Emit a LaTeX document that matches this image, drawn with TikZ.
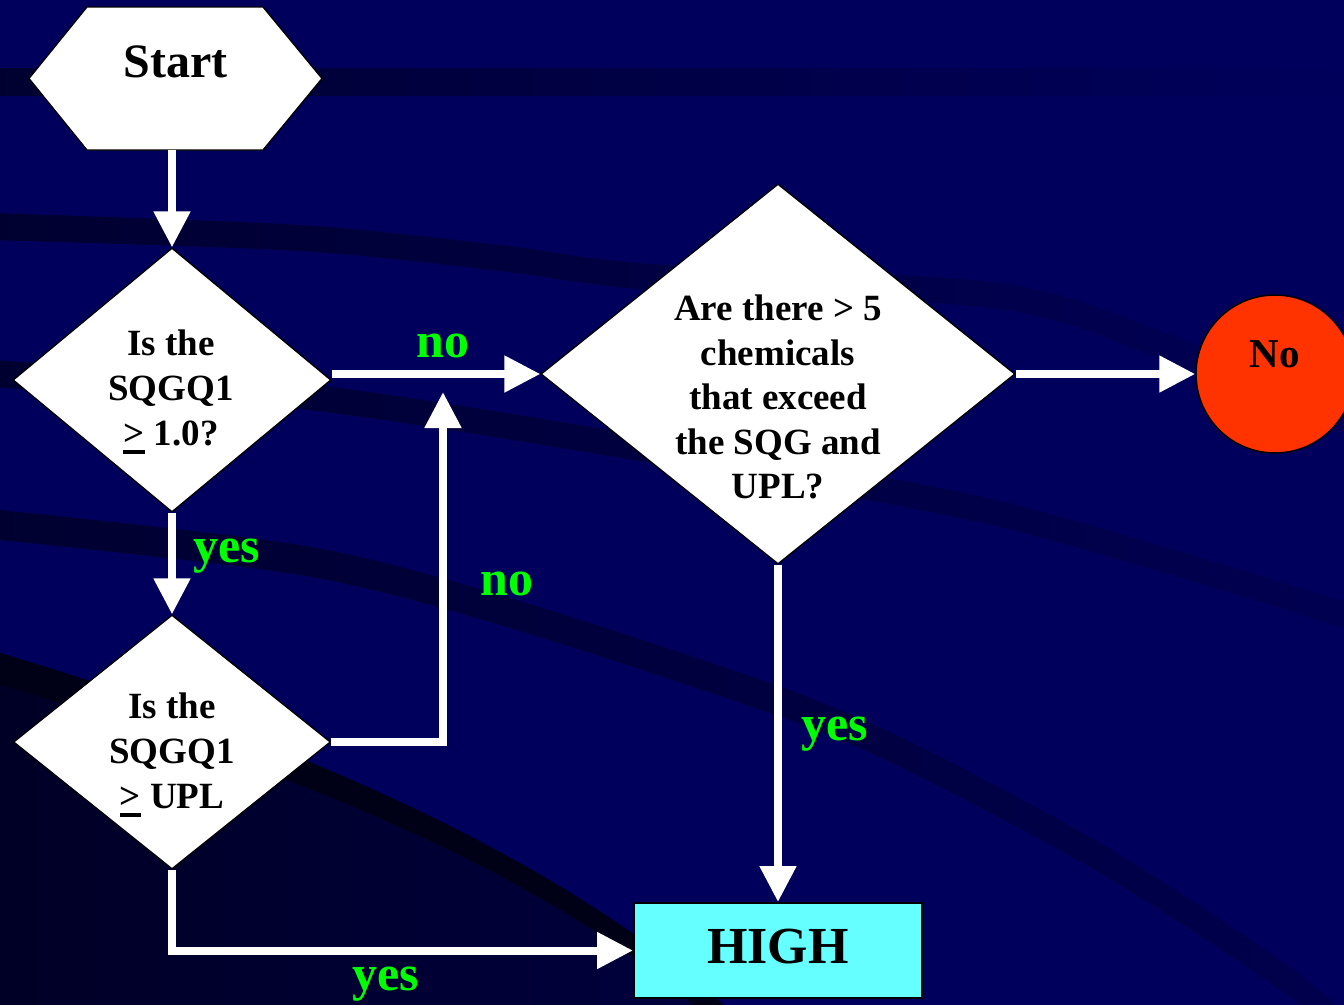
\documentclass[tikz,border=0pt]{standalone}
\usepackage{fontspec}
\setmainfont{Liberation Serif}
\usetikzlibrary{arrows.meta,shapes.geometric}

\definecolor{bgnavy}{RGB}{0,0,92}
\definecolor{swoosh}{RGB}{0,0,48}
\definecolor{deepnavy}{RGB}{0,0,62}
\definecolor{inknavy}{RGB}{0,0,38}
\definecolor{nightnavy}{RGB}{0,0,22}
\definecolor{lblgreen}{RGB}{0,255,0}
\definecolor{highcyan}{RGB}{102,255,255}
\definecolor{stopred}{RGB}{255,51,0}

% ">" with a heavy rule beneath it, read as "greater or equal"
\newcommand\ulgt{\setbox0\hbox{>}\rlap{\rule[-8pt]{\wd0}{4pt}}\box0}

\begin{document}
\begin{tikzpicture}[x=1pt,y=-1pt,
  shapebox/.style={draw=black,line width=1.3pt,fill=white},
  decision/.style={shapebox,diamond,inner sep=0pt},
  qtext/.style={font=\fontsize{37}{45}\selectfont\bfseries,align=center,inner sep=0pt},
  lbl/.style={font=\fontsize{50}{60}\selectfont\bfseries,text=lblgreen,anchor=base,inner sep=0pt},
  flow/.style={draw=white,line width=8pt,-{Triangle[width=35pt,length=36pt]}},
]
\useasboundingbox (0,0) rectangle (1344,1004);

% backdrop with dark swooshes (drawn a little past the page edge)
\fill[bgnavy] (-10,-10) rectangle (1354,1020);
\shade[left color=swoosh,middle color=swoosh!60!bgnavy,right color=bgnavy]
  (-10,68) rectangle (1354,95);
\shade[left color=swoosh,right color=swoosh!15!bgnavy]
  plot[smooth] coordinates {(-10,213) (300,225) (500,245) (650,264) (1000,283) (1173,336) (1354,410)}
  -- plot[smooth] coordinates {(1354,438) (1173,364) (1000,309) (650,290) (500,271) (300,251) (-10,240)}
  -- cycle;
\shade[left color=swoosh,right color=swoosh!25!bgnavy]
  plot[smooth] coordinates {(-10,360) (300,383) (633,434) (1000,501) (1354,605)}
  -- plot[smooth] coordinates {(1354,631) (1000,527) (633,460) (300,409) (-10,387)}
  -- cycle;
\shade[left color=swoosh,right color=swoosh!35!bgnavy]
  plot[smooth] coordinates {(-10,509) (300,545) (500,595) (767,682) (900,737) (1100,843) (1290,967) (1350,1020)}
  -- plot[smooth] coordinates {(1325,1040) (1290,997) (1100,873) (900,767) (767,712) (500,625) (300,575) (-10,539)}
  -- cycle;
\shade[left color=inknavy,right color=deepnavy]
  (-10,650) .. controls (260,730) and (560,850) .. (740,1020) -- (-10,1020) -- cycle;
\fill[nightnavy]
  (-10,650) .. controls (260,730) and (560,850) .. (740,1020)
  -- (710,1020) .. controls (540,862) and (250,757) .. (-10,682) -- cycle;

% start terminal
\path[shapebox] (29,78.5) -- (87,7) -- (263,7) -- (322,78.5) -- (263,150) -- (87,150) -- cycle;
\node[minimum width=176pt,minimum height=143pt,inner sep=0pt,
      font=\fontsize{48}{58}\selectfont\bfseries,text height=33pt,text depth=36pt]
  (start) at (175.5,78.5) {Start};

% decisions
\node[decision,minimum width=318pt,minimum height=264pt] (d1) at (172,380) {};
\node[decision,minimum width=317pt,minimum height=254pt] (d2) at (172,742) {};
\node[decision,minimum width=474pt,minimum height=380pt] (d3) at (778,374) {};
\node[qtext] (q1) at (171,392) {Is the\\SQGQ1\\\ulgt{} 1.0?};
\node[qtext] (q2) at (172,755) {Is the\\SQGQ1\\\ulgt{} UPL};
\node[qtext,font=\fontsize{37}{44.5}\selectfont\bfseries] (q3) at (778,397)
  {Are there > 5\\chemicals\\that exceed\\the SQG and\\UPL?};

% outcomes
\node[circle,draw=black,line width=1.5pt,fill=stopred,minimum size=158pt,inner sep=0pt,
      font=\fontsize{41}{49}\selectfont\bfseries,text height=28pt,text depth=42pt]
  (stop) at (1275,374) {No};
\node[rectangle,draw=black,line width=2pt,fill=highcyan,minimum width=288pt,minimum height=95pt,
      inner sep=0pt,font=\fontsize{52}{62}\selectfont\bfseries,text height=36pt,text depth=11pt]
  (high) at (778,950.5) {HIGH};

% connectors
\coordinate (join) at (443,392);
\draw[flow] (start.south -| d1.north) -- (d1.north);
\draw[flow] (d1.south) -- (d2.north);
\draw[flow] (d1.east |- d3.west) -- (d3.west);
\draw[flow] (d3.east) -- (stop.west);
\draw[flow] (d3.south) -- (high.north);
\draw[flow] (d2.east) -| (join);
\draw[flow] (d2.south) |- (high.west);

% branch labels
\node[lbl] (no1) at (443,357) {no};
\node[lbl] (no2) at (507,595) {no};
\node[lbl] (yes1) at (227,562) {yes};
\node[lbl] (yes2) at (835,740) {yes};
\node[lbl] (yes3) at (386,990) {yes};
\end{tikzpicture}
\end{document}
